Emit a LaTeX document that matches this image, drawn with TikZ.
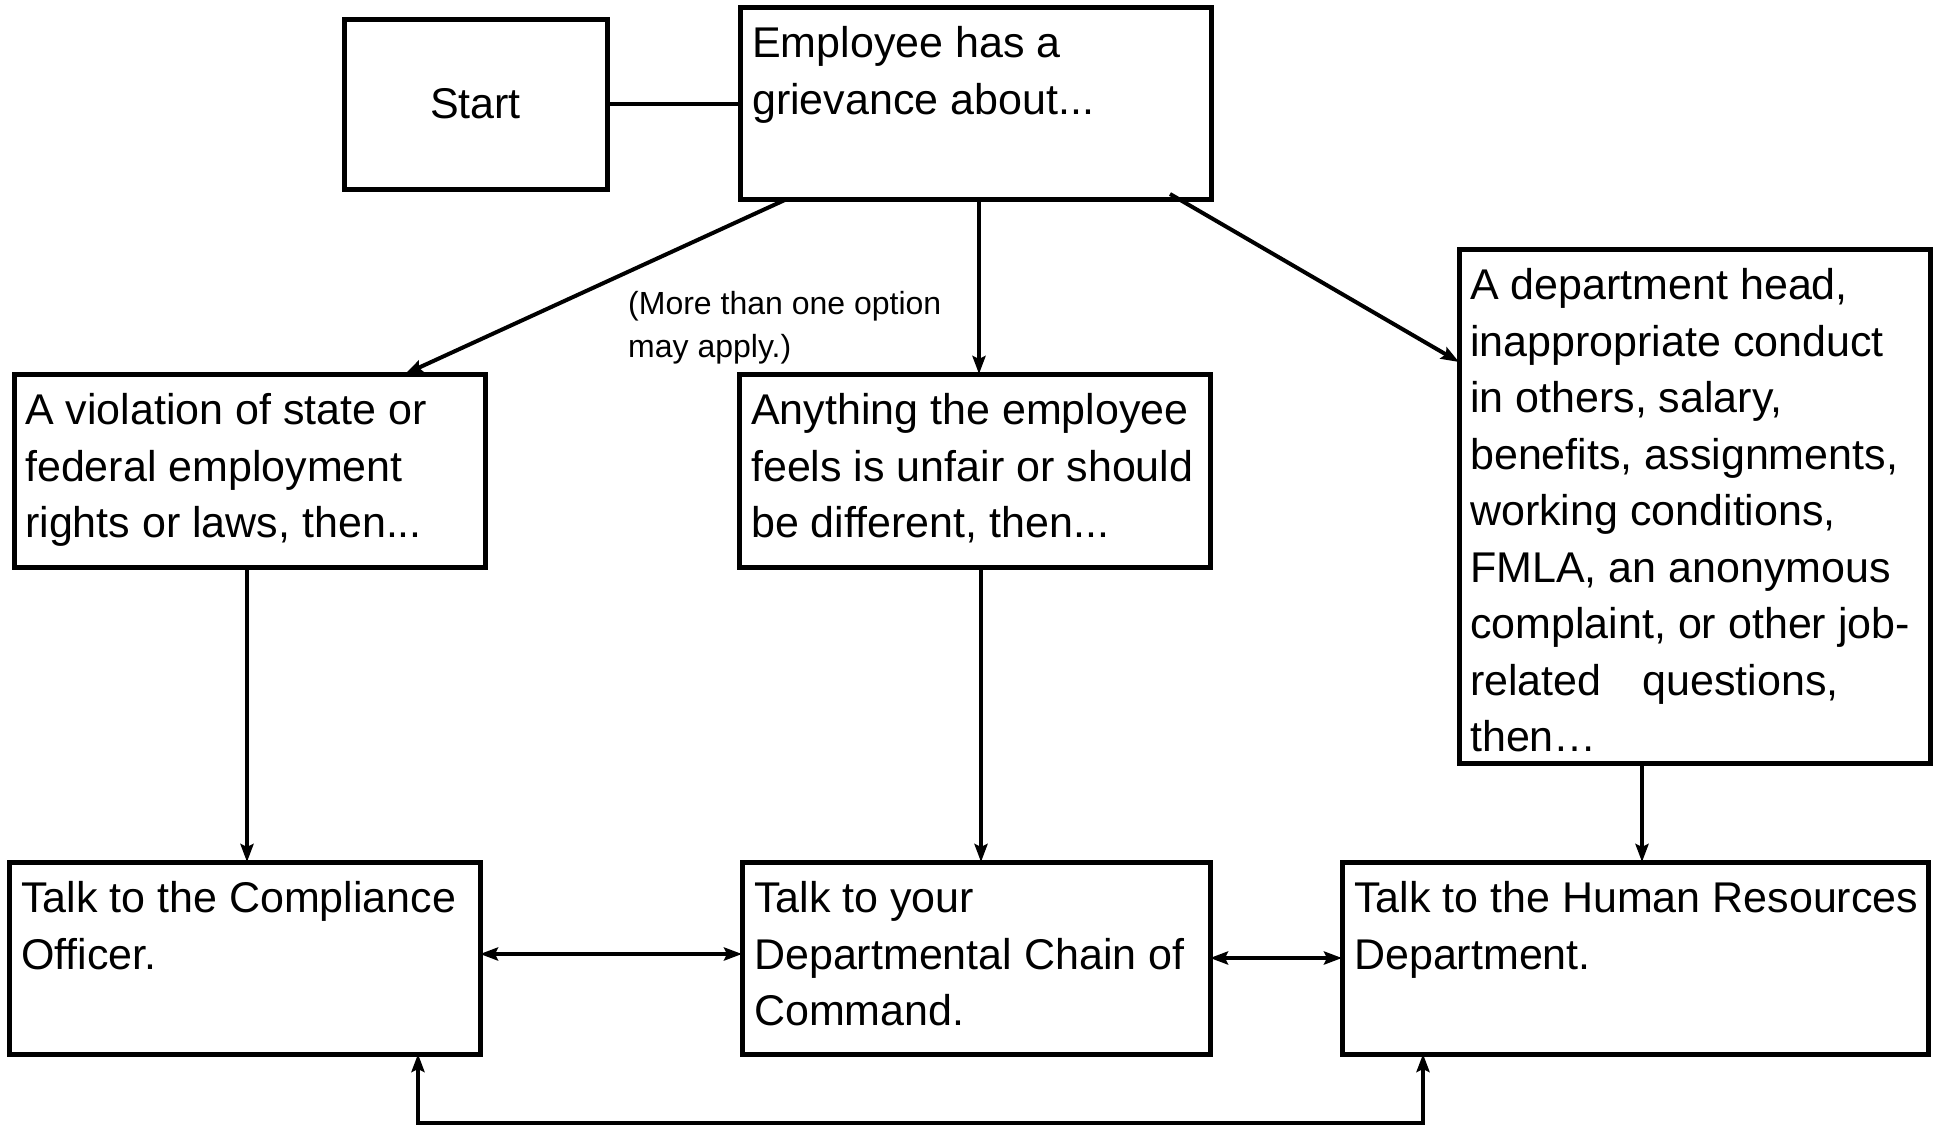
\documentclass[tikz,border=0pt]{standalone}
\usepackage{fontspec}
\setmainfont{Liberation Sans}
\usetikzlibrary{arrows.meta,calc}
\tikzset{
  box/.style={draw=black, line width=5pt, fill=white, inner sep=0pt, outer sep=0pt},
  txt/.style={anchor=north west, inner sep=0pt, align=left, font=\fontsize{43}{56.5}\selectfont},
  small/.style={anchor=north west, inner sep=0pt, align=left, font=\fontsize{32}{43}\selectfont},
  tip/.tip={Stealth[length=18pt,width=13pt,inset=3pt]},
  conn/.style={line width=4pt, -tip},
  plain/.style={line width=4pt},
  both/.style={line width=4pt, tip-tip}
}
\begin{document}
\begin{tikzpicture}[x=1pt,y=-1pt]
\useasboundingbox (0,0) rectangle (1940,1127);
\fill[white] (0,0) rectangle (1940,1127);
% boxes
\node[box, minimum width=263pt, minimum height=170pt, font=\fontsize{43}{56.5}\selectfont] (start) at (475.5,104) {Start};
\node[box, minimum width=471pt, minimum height=192pt] (emp) at (975.5,103) {};
\node[box, minimum width=471pt, minimum height=193pt] (viol) at (249.5,470.5) {};
\node[box, minimum width=471pt, minimum height=193pt] (any) at (974.5,470.5) {};
\node[box, minimum width=471pt, minimum height=514pt] (dept) at (1694.5,506) {};
\node[box, minimum width=471pt, minimum height=192pt] (comp) at (244.5,958) {};
\node[box, minimum width=468pt, minimum height=192pt] (chain) at (976,958) {};
\node[box, minimum width=586pt, minimum height=192pt] (hr) at (1635,958) {};
% texts
\node[txt] (tEmp) at ($(emp.north west)+(12,19.5)$) {Employee has a\\grievance about...};
\node[txt] (tViol) at ($(viol.north west)+(11,19.5)$) {A violation of state or\\federal employment\\rights or laws, then...};
\node[txt] (tAny) at ($(any.north west)+(12,19.5)$) {Anything the employee\\feels is unfair or should\\be different, then...};
\node[txt] (tDept) at ($(dept.north west)+(11,19.5)$) {A department head,\\inappropriate conduct\\in others, salary,\\benefits, assignments,\\working conditions,\\FMLA, an anonymous\\complaint, or other job-\\related\hspace{41pt}questions,\\then\ldots};
\node[txt] (tComp) at ($(comp.north west)+(12,19.5)$) {Talk to the Compliance\\Officer.};
\node[txt] (tChain) at ($(chain.north west)+(12,19.5)$) {Talk to your\\Departmental Chain of\\Command.};
\node[txt] (tHr) at ($(hr.north west)+(12,19.5)$) {Talk to the Human Resources\\Department.};
\node[small] (note) at (628,291) {(More than one option\\may apply.)};
% connectors
\draw[plain] (start.east) -- (emp.west |- start.east);
\draw[conn] ($(emp.south west)+(47,0)$) -- ($(viol.north west)+(391,0)$);
\draw[conn] ($(emp.south west)+(239,0)$) -- ($(any.north west)+(240,0)$);
\draw[conn] ($(emp.south west)+(430,-5)$) -- ($(dept.north west)+(0,113)$);
\draw[conn] ($(viol.south west)+(233,0)$) -- ($(comp.north west)+(238,0)$);
\draw[conn] ($(any.south west)+(242,0)$) -- ($(chain.north west)+(239,0)$);
\draw[conn] ($(dept.south west)+(183,0)$) -- ($(hr.north west)+(300,0)$);
\draw[both] ($(comp.east)+(0,-4)$) -- ($(chain.west)+(0,-4)$);
\draw[both] (chain.east) -- (hr.west);
\coordinate (bl) at (418,1123);
\coordinate (br) at (1423,1123);
\draw[both] ($(comp.south west)+(409,0)$) -- (bl) -- (br) -- ($(hr.south west)+(81,0)$);
\end{tikzpicture}
\end{document}
